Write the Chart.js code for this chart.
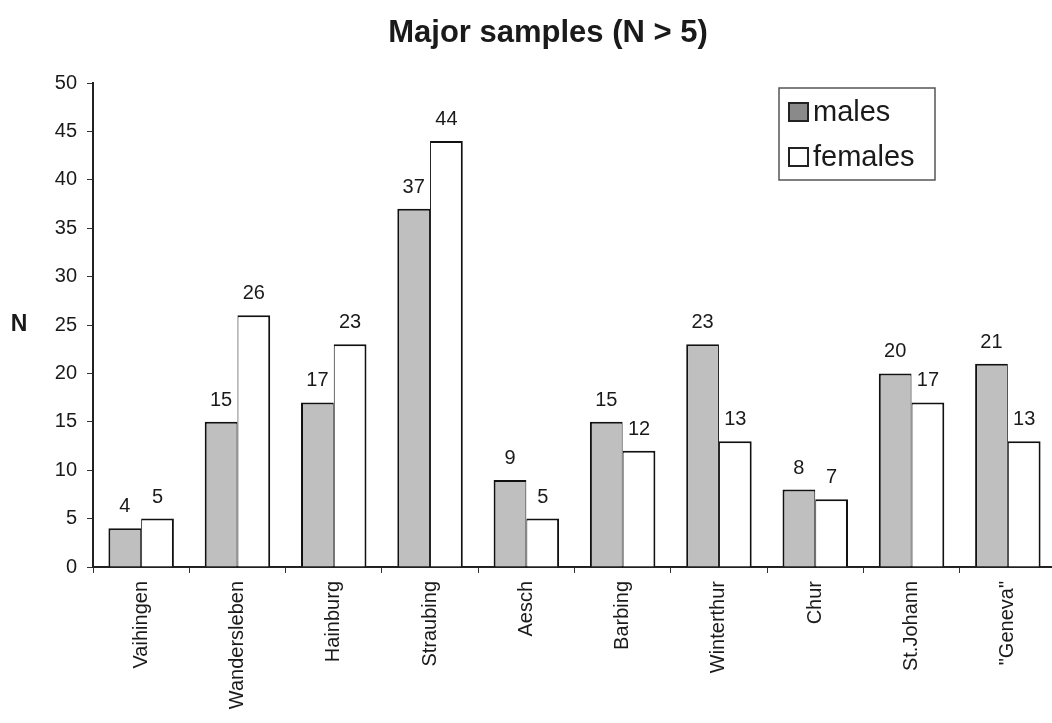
<!DOCTYPE html>
<html><head><meta charset="utf-8">
<script src="https://cdn.jsdelivr.net/npm/chart.js@4/dist/chart.umd.min.js"></script>
<style>html,body{margin:0;padding:0;overflow:hidden;background:#fff}#wrap{width:1060px;height:723px;position:relative}</style>
</head><body><div id="wrap"><canvas id="c" width="1060" height="723"></canvas></div>
<script>
const categories = ["Vaihingen","Wandersleben","Hainburg","Straubing","Aesch","Barbing","Winterthur","Chur","St.Johann","\"Geneva\""];
const males = [4,15,17,37,9,15,23,8,20,21];
const females = [5,26,23,44,5,12,13,7,17,13];
const seriesNames = ["males","females"];
const yMin = 0, yMax = 50, yStep = 5;
const titleText = "Major samples (N > 5)";
const yTitle = "N";

const FONT = "'Liberation Sans', Arial, Helvetica, sans-serif";

const overlay = {
  id: 'overlay',
  afterDraw(chart) {
    const ctx = chart.ctx;
    ctx.save();
    // title
    ctx.fillStyle = '#1a1a1a';
    ctx.font = "bold 31px " + FONT;
    ctx.textAlign = 'center'; ctx.textBaseline = 'middle';
    ctx.fillText(titleText, 548, 33);
    // y title
    ctx.font = "bold 23px " + FONT;
    ctx.fillText(yTitle, 19, chart.scales.y.getPixelForValue(25));
    // data labels
    ctx.font = "20px " + FONT;
    ctx.textBaseline = 'alphabetic';
    chart.data.datasets.forEach((ds, di) => {
      const meta = chart.getDatasetMeta(di);
      meta.data.forEach((bar, i) => {
        ctx.fillText(String(ds.data[i]), bar.x, bar.y - 16);
      });
    });
    // legend
    const lx = 779, ly = 88, lw = 156, lh = 92;
    ctx.strokeStyle = '#555'; ctx.lineWidth = 1.5;
    ctx.strokeRect(lx, ly, lw, lh);
    ctx.font = "29px " + FONT;
    ctx.textAlign = 'left'; ctx.textBaseline = 'middle';
    // males swatch
    ctx.fillStyle = '#8a8a8a'; ctx.fillRect(789, 103, 19, 18);
    ctx.strokeStyle = '#222'; ctx.lineWidth = 2; ctx.strokeRect(789, 103, 19, 18);
    ctx.fillStyle = '#1a1a1a';
    ctx.fillText(seriesNames[0], 813, 113);
    // females swatch
    ctx.fillStyle = '#fff'; ctx.fillRect(789, 148, 19, 18);
    ctx.strokeStyle = '#222'; ctx.strokeRect(789, 148, 19, 18);
    ctx.fillStyle = '#1a1a1a';
    ctx.fillText(seriesNames[1], 813, 158);
    ctx.restore();
  }
};

new Chart(document.getElementById('c'), {
  type: 'bar',
  data: {
    labels: categories,
    datasets: [
      { label: seriesNames[0], data: males, backgroundColor: '#bfbfbf', borderColor: '#111',
        borderWidth: {left:2, right:1, top:2, bottom:0}, borderSkipped: false,
        barPercentage: 1.0, categoryPercentage: 0.68 },
      { label: seriesNames[1], data: females, backgroundColor: '#ffffff', borderColor: '#111',
        borderWidth: {left:1, right:2, top:2, bottom:0}, borderSkipped: false,
        barPercentage: 1.0, categoryPercentage: 0.68 }
    ]
  },
  options: {
    responsive: false,
    animation: false,
    devicePixelRatio: 1,
    layout: { padding: { top: 83, left: 0, right: 4, bottom: 0 } },
    plugins: { legend: { display: false }, title: { display: false }, tooltip: { enabled: false } },
    scales: {
      x: {
        grid: { drawOnChartArea: false, tickLength: 6, color: '#333', lineWidth: 1 },
        border: { display: true, color: '#222', width: 2 },
        ticks: { maxRotation: 90, minRotation: 90, color: '#1a1a1a', padding: 8, font: { family: FONT, size: 20 } },
        afterFit(s) { s.height = 156; }
      },
      y: {
        min: yMin, max: yMax,
        grid: { drawOnChartArea: false, tickLength: 6, color: '#333', lineWidth: 1 },
        border: { display: true, color: '#222', width: 2 },
        ticks: { stepSize: yStep, color: '#1a1a1a', padding: 10, font: { family: FONT, size: 20 } },
        afterFit(s) { s.width = 93; }
      }
    }
  },
  plugins: [overlay]
});
</script></body></html>
